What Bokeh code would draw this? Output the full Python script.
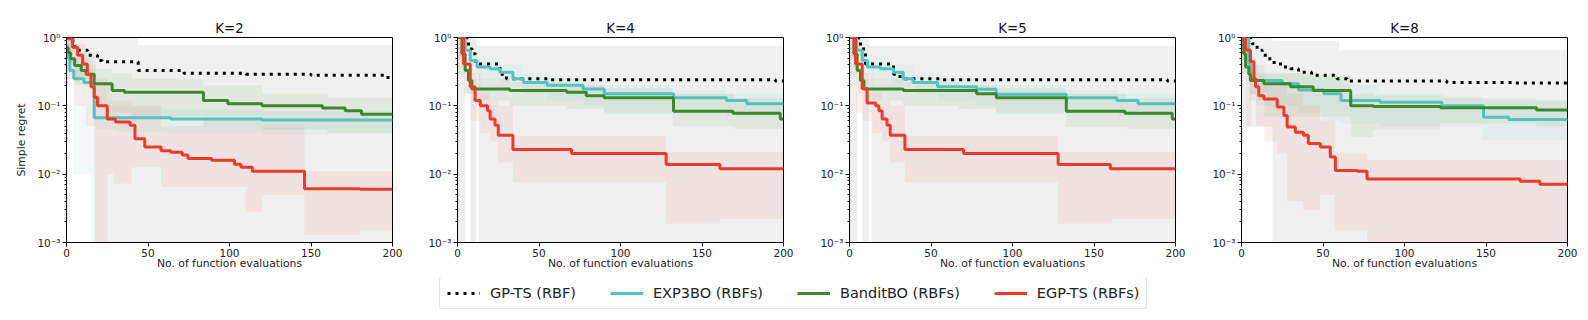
from bokeh.plotting import figure
from bokeh.layouts import column, row
from bokeh.models import Range1d, FixedTicker, CustomJSTickFormatter, Legend, LegendItem
from bokeh.embed import file_html
from bokeh.resources import INLINE

FONT = "DejaVu Sans"
TITLES = ["K=2", "K=4", "K=5", "K=8"]
SERIES = ["GP-TS (RBF)", "EXP3BO (RBFs)", "BanditBO (RBFs)", "EGP-TS (RBFs)"]
X_TICKS = [0, 50, 100, 150, 200]
Y_TICKS = [1e-3, 1e-2, 1e-1, 1.0]
X_LABEL = "No. of function evaluations"
Y_LABEL = "Simple regret"

# ---------------- K=2 ----------------
K2_GPTS_X = [0, 3.7, 5, 13, 19, 22, 44, 72, 110, 150, 195, 200]
K2_GPTS_Y = [1.0, 0.9, 0.65, 0.55, 0.46, 0.44, 0.33, 0.30, 0.29, 0.28, 0.26, 0.26]
K2_EXP3_X = [0, 1, 2, 4.5, 10.7, 17, 64, 120, 200]
K2_EXP3_Y = [0.75, 0.5, 0.33, 0.25, 0.22, 0.067, 0.064, 0.062, 0.062]
K2_BAND_X = [0, 1, 2.5, 5, 9, 12, 17, 28, 35.5, 84, 99, 120, 157, 171, 181, 200]
K2_BAND_Y = [0.7, 0.6, 0.49, 0.39, 0.33, 0.29, 0.21, 0.168, 0.158, 0.12, 0.107, 0.10, 0.093, 0.085, 0.075, 0.075]
K2_EGP_X = [0, 3.7, 6.8, 9.9, 12.8, 15, 17, 19, 25, 30, 39, 42, 48, 58, 64, 71, 74.5, 89, 103, 107, 114, 146, 180, 200]
K2_EGP_Y = [0.96, 0.72, 0.55, 0.41, 0.29, 0.19, 0.134, 0.10, 0.064, 0.058, 0.052, 0.033, 0.025, 0.022, 0.021,
            0.019, 0.017, 0.016, 0.014, 0.0126, 0.011, 0.0061, 0.006, 0.006]
# shaded bands (x breakpoints, lower, upper)
K2_GPTS_BX = [0, 17, 44, 200]
K2_GPTS_LO = [0.25, 1e-4, 1e-4, 1e-4]
K2_GPTS_HI = [1.5, 1.5, 0.77, 0.77]
K2_EXP3_BX = [0, 4, 15, 18, 30, 60, 120, 200]
K2_EXP3_LO = [0.3, 0.01, 1e-4, 0.045, 0.042, 0.04, 0.038, 0.038]
K2_EXP3_HI = [0.9, 0.5, 0.35, 0.1, 0.095, 0.09, 0.085, 0.085]
K2_BAND_BX = [0, 5, 17, 28, 40, 84, 120, 160, 200]
K2_BAND_LO = [0.4, 0.2, 0.1, 0.08, 0.07, 0.05, 0.045, 0.04, 0.036]
K2_BAND_HI = [0.9, 0.6, 0.35, 0.3, 0.25, 0.2, 0.15, 0.13, 0.11]
K2_EGP_BX = [0, 5, 12, 18, 25, 29, 40, 58, 110, 120, 146, 180, 200]
K2_EGP_LO = [0.5, 0.1, 0.05, 1e-4, 0.01, 0.0073, 0.0126, 0.0065, 0.0028, 0.005, 0.0013, 0.0015, 0.0015]
K2_EGP_HI = [1.2, 0.8, 0.4, 0.25, 0.12, 0.12, 0.1, 0.05, 0.05, 0.05, 0.011, 0.011, 0.011]

# ---------------- K=4 ----------------
K4_GPTS_X = [0, 5.7, 6.7, 9, 11, 26, 30, 57, 195, 200]
K4_GPTS_Y = [1.0, 0.9, 0.68, 0.58, 0.41, 0.29, 0.25, 0.24, 0.23, 0.23]
K4_EXP3_X = [0, 4.7, 7.8, 12, 20, 26, 34, 40.5, 55, 77, 90, 132.5, 165, 177.5, 200]
K4_EXP3_Y = [1.0, 0.65, 0.46, 0.37, 0.35, 0.31, 0.25, 0.22, 0.2, 0.177, 0.15, 0.131, 0.12, 0.107, 0.107]
K4_BAND_X = [0, 2.7, 4.7, 6.7, 8.8, 32, 67, 79, 90, 132.5, 169, 198, 200]
K4_BAND_Y = [1.0, 0.58, 0.33, 0.235, 0.177, 0.168, 0.158, 0.14, 0.131, 0.083, 0.078, 0.064, 0.064]
K4_EGP_X = [0, 3.7, 7.8, 10.8, 14, 18.4, 20, 23, 25, 34, 70, 128, 161, 200]
K4_EGP_Y = [1.0, 0.41, 0.19, 0.12, 0.10, 0.085, 0.064, 0.052, 0.037, 0.023, 0.020, 0.0138, 0.012, 0.012]
K4_GPTS_BX = [0, 4.7, 7.8, 11.5, 13, 200]
K4_GPTS_LO = [1e-4, 0.6, 1e-4, 0.3, 1e-4, 1e-4]
K4_GPTS_HI = [1.5, 1.5, 1.5, 0.76, 0.76, 0.76]
K4_EXP3_BX = [0, 5, 12, 26, 40, 55, 77, 90, 132, 165, 200]
K4_EXP3_LO = [0.5, 0.4, 0.25, 0.2, 0.15, 0.12, 0.1, 0.075, 0.08, 0.07, 0.065]
K4_EXP3_HI = [1.2, 0.8, 0.5, 0.4, 0.3, 0.25, 0.22, 0.2, 0.17, 0.15, 0.13]
K4_BAND_BX = [0, 5, 9, 32, 67, 90, 132, 170, 200]
K4_BAND_LO = [0.3, 0.15, 0.12, 0.1, 0.09, 0.08, 0.05, 0.046, 0.046]
K4_BAND_HI = [1.2, 0.4, 0.25, 0.22, 0.2, 0.18, 0.15, 0.13, 0.12]
K4_EGP_BX = [0, 4, 8, 14, 20, 25, 34, 128, 161, 200]
K4_EGP_LO = [0.5, 0.15, 0.06, 0.04, 0.03, 0.015, 0.0076, 0.0019, 0.0022, 0.0022]
K4_EGP_HI = [1.2, 0.6, 0.3, 0.15, 0.12, 0.1, 0.036, 0.021, 0.021, 0.021]

# ---------------- K=5 ----------------
K5_GPTS_X = [0, 5.5, 6.7, 9.8, 27, 31, 57, 195, 200]
K5_GPTS_Y = [1.0, 0.9, 0.68, 0.41, 0.29, 0.25, 0.24, 0.23, 0.23]
K5_EXP3_X = [0, 4.5, 7.8, 11, 19, 27, 33, 39, 54, 78, 90, 133, 164, 177, 200]
K5_EXP3_Y = [1.0, 0.65, 0.46, 0.37, 0.35, 0.31, 0.25, 0.22, 0.19, 0.175, 0.148, 0.131, 0.12, 0.107, 0.107]
K5_BAND_X = [0, 2.7, 4.7, 6.7, 8.8, 33, 78, 90, 133, 169, 198, 200]
K5_BAND_Y = [1.0, 0.58, 0.33, 0.235, 0.177, 0.168, 0.15, 0.131, 0.083, 0.078, 0.064, 0.064]
K5_EGP_X = [0, 3.7, 7.8, 10.8, 16, 18, 20, 23, 25, 34, 70, 128, 160, 200]
K5_EGP_Y = [1.0, 0.41, 0.18, 0.11, 0.10, 0.085, 0.064, 0.052, 0.037, 0.023, 0.020, 0.0138, 0.012, 0.012]
K5_GPTS_BX = [0, 4.7, 7.8, 12, 13.5, 200]
K5_GPTS_LO = [1e-4, 0.6, 1e-4, 0.3, 1e-4, 1e-4]
K5_GPTS_HI = [1.5, 1.5, 1.5, 0.76, 0.76, 0.76]
K5_EXP3_BX = [0, 5, 12, 26, 40, 55, 77, 90, 132, 165, 200]
K5_EXP3_LO = [0.5, 0.4, 0.25, 0.2, 0.15, 0.12, 0.1, 0.075, 0.08, 0.07, 0.065]
K5_EXP3_HI = [1.2, 0.8, 0.5, 0.4, 0.3, 0.25, 0.22, 0.2, 0.17, 0.15, 0.13]
K5_BAND_BX = [0, 5, 9, 33, 67, 90, 133, 170, 200]
K5_BAND_LO = [0.3, 0.15, 0.12, 0.1, 0.09, 0.08, 0.049, 0.046, 0.046]
K5_BAND_HI = [1.2, 0.4, 0.25, 0.22, 0.2, 0.18, 0.15, 0.13, 0.12]
K5_EGP_BX = [0, 4, 8, 14, 20, 25, 34, 128, 161, 200]
K5_EGP_LO = [0.5, 0.08, 0.06, 0.04, 0.03, 0.015, 0.0076, 0.0019, 0.0022, 0.0022]
K5_EGP_HI = [1.2, 0.6, 0.3, 0.15, 0.12, 0.1, 0.036, 0.021, 0.021, 0.021]

# ---------------- K=8 ----------------
K8_GPTS_X = [0, 6.5, 9.6, 12.7, 15.7, 20, 25, 30, 35, 43, 58.6, 64.8, 126, 167, 200]
K8_GPTS_Y = [1.0, 0.81, 0.65, 0.55, 0.49, 0.41, 0.37, 0.35, 0.31, 0.28, 0.25, 0.23, 0.22, 0.215, 0.215]
K8_EXP3_X = [0, 4.5, 5.5, 8.6, 25, 35, 50.5, 61, 85, 123, 148.5, 164, 200]
K8_EXP3_Y = [1.0, 0.41, 0.25, 0.235, 0.21, 0.17, 0.15, 0.12, 0.113, 0.10, 0.068, 0.063, 0.063]
K8_BAND_X = [0, 1.4, 2.5, 4.5, 5.5, 13.7, 30, 44, 67, 81, 122, 181, 200]
K8_BAND_Y = [1.0, 0.58, 0.37, 0.29, 0.235, 0.21, 0.19, 0.168, 0.10, 0.098, 0.094, 0.087, 0.087]
K8_EGP_X = [0, 2.5, 5.5, 7.6, 8.6, 10.6, 13.7, 21.9, 26, 28, 33, 38, 41, 48.4, 54.5, 57.6, 71, 77, 171, 183, 200]
K8_EGP_Y = [1.0, 0.65, 0.44, 0.25, 0.19, 0.14, 0.126, 0.096, 0.072, 0.049, 0.041, 0.037, 0.028, 0.025,
            0.0178, 0.0113, 0.011, 0.0085, 0.0079, 0.0071, 0.0071]
K8_GPTS_BX = [0, 19, 60, 200]
K8_GPTS_LO = [0.05, 1e-4, 1e-4, 1e-4]
K8_GPTS_HI = [1.5, 0.9, 0.65, 0.65]
K8_EXP3_BX = [0, 5, 9, 35, 50, 61, 85, 123, 148, 200]
K8_EXP3_LO = [0.5, 0.15, 0.1, 0.08, 0.06, 0.055, 0.05, 0.05, 0.032, 0.032]
K8_EXP3_HI = [1.2, 0.5, 0.3, 0.28, 0.25, 0.2, 0.15, 0.14, 0.12, 0.12]
K8_BAND_BX = [0, 5, 14, 44, 67, 81, 122, 181, 200]
K8_BAND_LO = [0.3, 0.12, 0.07, 0.07, 0.035, 0.045, 0.055, 0.05, 0.05]
K8_BAND_HI = [1.2, 0.4, 0.3, 0.28, 0.15, 0.14, 0.13, 0.12, 0.12]
K8_EGP_BX = [0, 3, 6, 9, 14, 22, 28, 38, 48, 57, 77, 200]
K8_EGP_LO = [0.3, 0.05, 0.15, 0.05, 0.03, 0.02, 0.004, 0.003, 0.005, 0.0015, 1e-4, 1e-4]
K8_EGP_HI = [1.2, 0.8, 0.5, 0.3, 0.25, 0.2, 0.15, 0.1, 0.06, 0.02, 0.016, 0.016]

PANELS = [
    dict(lines=[(K2_GPTS_X, K2_GPTS_Y), (K2_EXP3_X, K2_EXP3_Y), (K2_BAND_X, K2_BAND_Y), (K2_EGP_X, K2_EGP_Y)],
         bands=[(K2_GPTS_BX, K2_GPTS_LO, K2_GPTS_HI), (K2_EXP3_BX, K2_EXP3_LO, K2_EXP3_HI),
                (K2_BAND_BX, K2_BAND_LO, K2_BAND_HI), (K2_EGP_BX, K2_EGP_LO, K2_EGP_HI)]),
    dict(lines=[(K4_GPTS_X, K4_GPTS_Y), (K4_EXP3_X, K4_EXP3_Y), (K4_BAND_X, K4_BAND_Y), (K4_EGP_X, K4_EGP_Y)],
         bands=[(K4_GPTS_BX, K4_GPTS_LO, K4_GPTS_HI), (K4_EXP3_BX, K4_EXP3_LO, K4_EXP3_HI),
                (K4_BAND_BX, K4_BAND_LO, K4_BAND_HI), (K4_EGP_BX, K4_EGP_LO, K4_EGP_HI)]),
    dict(lines=[(K5_GPTS_X, K5_GPTS_Y), (K5_EXP3_X, K5_EXP3_Y), (K5_BAND_X, K5_BAND_Y), (K5_EGP_X, K5_EGP_Y)],
         bands=[(K5_GPTS_BX, K5_GPTS_LO, K5_GPTS_HI), (K5_EXP3_BX, K5_EXP3_LO, K5_EXP3_HI),
                (K5_BAND_BX, K5_BAND_LO, K5_BAND_HI), (K5_EGP_BX, K5_EGP_LO, K5_EGP_HI)]),
    dict(lines=[(K8_GPTS_X, K8_GPTS_Y), (K8_EXP3_X, K8_EXP3_Y), (K8_BAND_X, K8_BAND_Y), (K8_EGP_X, K8_EGP_Y)],
         bands=[(K8_GPTS_BX, K8_GPTS_LO, K8_GPTS_HI), (K8_EXP3_BX, K8_EXP3_LO, K8_EXP3_HI),
                (K8_BAND_BX, K8_BAND_LO, K8_BAND_HI), (K8_EGP_BX, K8_EGP_LO, K8_EGP_HI)]),
]

LINE_COLORS = ["black", "#56c1c1", "#3a8a2c", "#ee3a2b"]
BAND_COLORS = ["black", "#56c1c1", "#3a8a2c", "#ee3a2b"]
BAND_ALPHAS = [0.06, 0.08, 0.08, 0.08]
LINE_DASH = ["3 5", "solid", "solid", "solid"]
LINE_WIDTH = [3, 3, 3, 3]

# layout per panel: (figure width, left border, right border)
PANEL_BOX = [(410, 66, 18), (392, 47, 19), (392, 47, 19), (385, 47, 12)]

Y_FMT = CustomJSTickFormatter(code="""
const e = Math.round(Math.log10(tick));
const m = {"-":"\u207b","0":"\u2070","1":"\u00b9","2":"\u00b2","3":"\u00b3","4":"\u2074"};
return "10" + String(e).split("").map(c => m[c]).join("");
""")

minor = []
for e in (-3, -2, -1):
    for k in range(2, 10):
        minor.append(k * 10.0 ** e)

figs = []
for i, (title, pan) in enumerate(zip(TITLES, PANELS)):
    w, bl, br = PANEL_BOX[i]
    p = figure(width=w, height=278, x_range=Range1d(0, 200), y_range=Range1d(1e-3, 1.0),
               y_axis_type="log", output_backend="svg", toolbar_location=None,
               min_border_left=bl, min_border_right=br, min_border_top=37, min_border_bottom=36)
    p.title.text = title
    p.title.align = "center"
    p.title.text_font = FONT
    p.title.text_font_size = "13.3px"
    p.title.text_font_style = "normal"
    p.title.text_color = "#111111"
    p.title.standoff = 3
    p.grid.visible = False
    p.outline_line_color = "black"
    p.outline_line_alpha = 1
    p.outline_line_width = 1
    p.background_fill_color = "white"
    p.border_fill_color = "white"

    for (bx, lo, hi), c, a in zip(pan["bands"], BAND_COLORS, BAND_ALPHAS):
        p.varea_step(x=bx, y1=lo, y2=hi, step_mode="after", fill_color=c, fill_alpha=a)
    for (x, y), c, d, lw in zip(pan["lines"], LINE_COLORS, LINE_DASH, LINE_WIDTH):
        p.step(x=x, y=y, mode="after", line_color=c, line_width=lw, line_dash=d)

    xa = p.xaxis[0]
    xa.ticker = FixedTicker(ticks=X_TICKS, minor_ticks=[])
    xa.axis_label = X_LABEL
    ya = p.yaxis[0]
    ya.ticker = FixedTicker(ticks=Y_TICKS, minor_ticks=minor)
    ya.formatter = Y_FMT
    if i == 0:
        ya.axis_label = Y_LABEL
    for ax in (xa, ya):
        ax.axis_line_color = "black"
        ax.major_tick_line_color = "black"
        ax.minor_tick_line_color = "black"
        ax.major_tick_in = 0
        ax.major_tick_out = 4
        ax.minor_tick_in = 0
        ax.minor_tick_out = 2
        ax.major_label_text_font = FONT
        ax.major_label_text_font_size = "10.5px"
        ax.major_label_text_color = "#222222"
        ax.axis_label_text_font = FONT
        ax.axis_label_text_font_size = "10.8px"
        ax.axis_label_text_font_style = "normal"
        ax.axis_label_text_color = "#222222"
        ax.major_label_standoff = 2
    xa.major_label_standoff = 2
    xa.axis_label_standoff = -3
    ya.axis_label_standoff = 6
    figs.append(p)

# legend strip (legend renderers carry one segment placed outside the strip's visible range)
lf = figure(width=1579, height=34, x_range=Range1d(0, 1), y_range=Range1d(0, 1),
            output_backend="svg", toolbar_location=None, min_border=0,
            x_axis_location=None, y_axis_location=None)
lf.grid.visible = False
lf.outline_line_color = None
items = []
for name, c, d in zip(SERIES, LINE_COLORS, LINE_DASH):
    r = lf.line(x=[-5, -4], y=[-5, -5], line_color=c, line_width=3, line_dash=d)
    items.append(LegendItem(label=name, renderers=[r]))
leg = Legend(items=items, orientation="horizontal", location=(439, 3),
             glyph_width=33, glyph_height=16, label_height=16, label_standoff=10,
             spacing=34, padding=7, margin=0,
             label_text_font=FONT, label_text_font_size="14.5px", label_text_color="#222222",
             border_line_color="#cccccc", border_line_width=1, border_radius=3,
             background_fill_color="white", background_fill_alpha=1)
lf.add_layout(leg)

layout = column(row(*figs), lf)
open("out.html", "w").write(file_html(layout, INLINE))
